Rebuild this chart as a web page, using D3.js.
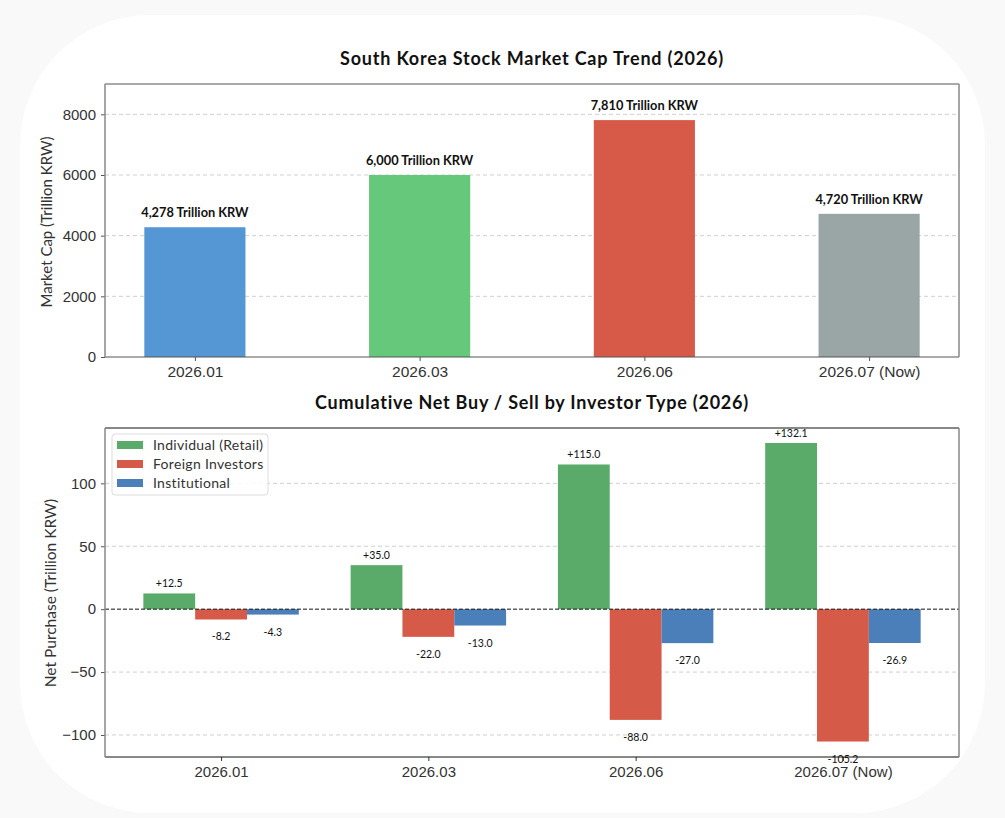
<!DOCTYPE html>
<html>
<head>
<meta charset="utf-8">
<script src="https://cdn.jsdelivr.net/npm/d3@7"></script>
<style>
  body { margin: 0; background: #f9f9f9; }
  svg { display: block; font-family: Lato, "Open Sans", sans-serif; }
  .grid line { stroke: #d0d0d0; stroke-dasharray: 4 3; }
  .tick text { fill: #333; }
</style>
</head>
<body>
<div id="viz"></div>
<script>
// top chart data
const capPeriods = ['2026.01', '2026.03', '2026.06', '2026.07 (Now)']
const capValues = [4278, 6000, 7810, 4720]
const capColors = ['#5597d5', '#66c87a', '#d75a48', '#9aa5a6']
const capTicks = [0, 2000, 4000, 6000, 8000]

// bottom chart data
const flowPeriods = ['2026.01', '2026.03', '2026.06', '2026.07 (Now)']
const investorTypes = ['Individual (Retail)', 'Foreign Investors', 'Institutional']
const retailValues = [12.5, 35.0, 115.0, 132.1]
const foreignValues = [-8.2, -22.0, -88.0, -105.2]
const institutionalValues = [-4.3, -13.0, -27.0, -26.9]
const investorColors = ['#5aab6a', '#d65a48', '#4a7fba']
const flowTicks = [-100, -50, 0, 50, 100]

const W = 1005, H = 818

const svg = d3.select('#viz').append('svg')
  .attr('width', W)
  .attr('height', H)

svg.append('rect')
  .attr('x', 20).attr('y', 15)
  .attr('width', W - 40).attr('height', H - 20)
  .attr('rx', 130)
  .attr('fill', '#fff')

function frame (g, x0, x1, y0, y1, colors) {
  g.append('line').attr('x1', x0).attr('x2', x1).attr('y1', y0).attr('y2', y0).attr('stroke', colors[0])
  g.append('line').attr('x1', x0).attr('x2', x1).attr('y1', y1).attr('y2', y1).attr('stroke', colors[1])
  g.append('line').attr('x1', x0).attr('x2', x0).attr('y1', y0).attr('y2', y1).attr('stroke', colors[2]).attr('stroke-width', 1.5)
  g.append('line').attr('x1', x1).attr('x2', x1).attr('y1', y0).attr('y2', y1).attr('stroke', colors[2]).attr('stroke-width', 1.5)
}

// ---------- top chart ----------
const topBox = { left: 105, right: 959, top: 84, bottom: 357 }
const gTop = svg.append('g')

const xTop = d3.scaleLinear().domain([-0.4, 3.4]).range([topBox.left, topBox.right])
const yTop = d3.scaleLinear().domain([0, 9000]).range([topBox.bottom, topBox.top])
const barWTop = 0.45

gTop.append('g').attr('class', 'grid')
  .selectAll('line').data(capTicks.slice(1)).join('line')
  .attr('x1', topBox.left).attr('x2', topBox.right)
  .attr('y1', d => yTop(d)).attr('y2', d => yTop(d))

gTop.selectAll('.bar').data(capValues).join('rect')
  .attr('class', 'bar')
  .attr('x', (d, i) => xTop(i - barWTop / 2))
  .attr('width', xTop(barWTop) - xTop(0))
  .attr('y', d => yTop(d))
  .attr('height', d => yTop(0) - yTop(d))
  .attr('fill', (d, i) => capColors[i])

gTop.selectAll('.val').data(capValues).join('text')
  .attr('class', 'val')
  .attr('x', (d, i) => xTop(i))
  .attr('y', d => yTop(d) - 10)
  .attr('text-anchor', 'middle')
  .attr('font-size', 12.8)
  .attr('font-weight', 'bold')
  .attr('fill', '#111')
  .text(d => d3.format(',')(d) + ' Trillion KRW')

const yAxisTop = gTop.append('g')
  .attr('transform', `translate(${topBox.left},0)`)
  .call(d3.axisLeft(yTop).tickValues(capTicks).tickSize(4).tickPadding(5).tickFormat(d3.format('d')))
yAxisTop.select('.domain').remove()
yAxisTop.selectAll('.tick line').attr('stroke', '#555')
yAxisTop.selectAll('.tick text').attr('font-size', 15)

const xAxisTop = gTop.append('g')
  .attr('transform', `translate(0,${topBox.bottom})`)
  .call(d3.axisBottom(xTop).tickValues(d3.range(capPeriods.length)).tickSize(4).tickPadding(5).tickFormat(i => capPeriods[i]))
xAxisTop.select('.domain').remove()
xAxisTop.selectAll('.tick line').attr('stroke', '#555')
xAxisTop.selectAll('.tick text').attr('font-size', 15.5)

frame(gTop, topBox.left, topBox.right, topBox.top, topBox.bottom, ['#555', '#555', '#888'])

gTop.append('text')
  .attr('x', 532).attr('y', 65)
  .attr('text-anchor', 'middle')
  .attr('font-size', 18)
  .attr('letter-spacing', 0.8)
  .attr('font-weight', 'bold')
  .attr('fill', '#111')
  .text('South Korea Stock Market Cap Trend (2026)')

gTop.append('text')
  .attr('transform', `translate(52,222) rotate(-90)`)
  .attr('text-anchor', 'middle')
  .attr('font-size', 15)
  .attr('fill', '#333')
  .text('Market Cap (Trillion KRW)')

// ---------- bottom chart ----------
const botBox = { left: 105, right: 959, top: 428, bottom: 757 }
const gBot = svg.append('g')

const xBot = d3.scaleLinear().domain([-0.56, 3.56]).range([botBox.left, botBox.right])
const yBot = d3.scaleLinear().domain([-117.5, 144]).range([botBox.bottom, botBox.top])
const barW = 0.25

gBot.append('g').attr('class', 'grid')
  .selectAll('line').data(flowTicks.filter(d => d !== 0)).join('line')
  .attr('x1', botBox.left).attr('x2', botBox.right)
  .attr('y1', d => yBot(d)).attr('y2', d => yBot(d))

const series = [retailValues, foreignValues, institutionalValues]
series.forEach((vals, s) => {
  const off = (s - 1) * barW
  gBot.append('g').selectAll('rect').data(vals).join('rect')
    .attr('x', (d, i) => xBot(i + off - barW / 2))
    .attr('width', xBot(barW) - xBot(0))
    .attr('y', d => yBot(Math.max(0, d)))
    .attr('height', d => Math.abs(yBot(d) - yBot(0)))
    .attr('fill', investorColors[s])

  gBot.append('g').selectAll('text').data(vals).join('text')
    .attr('x', (d, i) => xBot(i + off))
    .attr('y', d => d >= 0 ? yBot(d) - 6 : yBot(d) + 21)
    .attr('text-anchor', 'middle')
    .attr('font-size', 10.5)
    .attr('fill', '#111')
    .text(d => (d > 0 ? '+' : '') + d.toFixed(1))
})

gBot.append('line')
  .attr('x1', botBox.left).attr('x2', botBox.right)
  .attr('y1', yBot(0)).attr('y2', yBot(0))
  .attr('stroke', '#111')
  .attr('stroke-dasharray', '4 2')

const yAxisBot = gBot.append('g')
  .attr('transform', `translate(${botBox.left},0)`)
  .call(d3.axisLeft(yBot).tickValues(flowTicks).tickSize(4).tickPadding(5).tickFormat(d3.format('d')))
yAxisBot.select('.domain').remove()
yAxisBot.selectAll('.tick line').attr('stroke', '#555')
yAxisBot.selectAll('.tick text').attr('font-size', 15)

const xAxisBot = gBot.append('g')
  .attr('transform', `translate(0,${botBox.bottom})`)
  .call(d3.axisBottom(xBot).tickValues(d3.range(flowPeriods.length)).tickSize(4).tickPadding(5).tickFormat(i => flowPeriods[i]))
xAxisBot.select('.domain').remove()
xAxisBot.selectAll('.tick line').attr('stroke', '#333')
xAxisBot.selectAll('.tick text').attr('font-size', 15)

frame(gBot, botBox.left, botBox.right, botBox.top, botBox.bottom, ['#111', '#111', '#888'])

gBot.append('text')
  .attr('x', 532).attr('y', 409)
  .attr('text-anchor', 'middle')
  .attr('font-size', 18)
  .attr('letter-spacing', 0.75)
  .attr('font-weight', 'bold')
  .attr('fill', '#111')
  .text('Cumulative Net Buy / Sell by Investor Type (2026)')

gBot.append('text')
  .attr('transform', `translate(56,593) rotate(-90)`)
  .attr('text-anchor', 'middle')
  .attr('font-size', 15.5)
  .attr('fill', '#333')
  .text('Net Purchase (Trillion KRW)')

// legend
const legend = gBot.append('g').attr('transform', `translate(112,434)`)
legend.append('rect')
  .attr('width', 156).attr('height', 61).attr('rx', 3)
  .attr('fill', '#fff').attr('fill-opacity', 0.85)
  .attr('stroke', '#ddd')
investorTypes.forEach((name, i) => {
  legend.append('rect')
    .attr('x', 5).attr('y', 7 + i * 19)
    .attr('width', 26).attr('height', 8)
    .attr('fill', investorColors[i])
  legend.append('text')
    .attr('x', 41).attr('y', 16 + i * 19)
    .attr('font-size', 14)
    .attr('letter-spacing', 0.3)
    .attr('fill', '#333')
    .text(name)
})
</script>
</body>
</html>
